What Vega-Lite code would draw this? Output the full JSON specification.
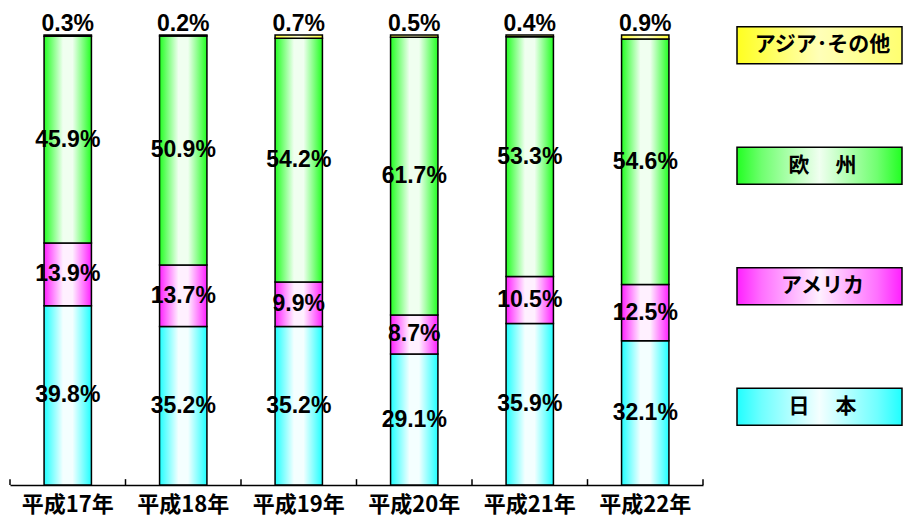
{
  "$schema": "https://vega.github.io/schema/vega-lite/v6.json",
  "padding": {"left": 9, "top": 13, "right": 5, "bottom": 5},
  "background": "white",
  "spacing": 32,
  "config": {"view": {"stroke": null}},
  "datasets": {
    "share": [
      {"year": "平成17年", "region": "日本", "order": 1, "value": 39.8},
      {"year": "平成17年", "region": "アメリカ", "order": 2, "value": 13.9},
      {"year": "平成17年", "region": "欧州", "order": 3, "value": 45.9},
      {"year": "平成17年", "region": "アジア・その他", "order": 4, "value": 0.3},
      {"year": "平成18年", "region": "日本", "order": 1, "value": 35.2},
      {"year": "平成18年", "region": "アメリカ", "order": 2, "value": 13.7},
      {"year": "平成18年", "region": "欧州", "order": 3, "value": 50.9},
      {"year": "平成18年", "region": "アジア・その他", "order": 4, "value": 0.2},
      {"year": "平成19年", "region": "日本", "order": 1, "value": 35.2},
      {"year": "平成19年", "region": "アメリカ", "order": 2, "value": 9.9},
      {"year": "平成19年", "region": "欧州", "order": 3, "value": 54.2},
      {"year": "平成19年", "region": "アジア・その他", "order": 4, "value": 0.7},
      {"year": "平成20年", "region": "日本", "order": 1, "value": 29.1},
      {"year": "平成20年", "region": "アメリカ", "order": 2, "value": 8.7},
      {"year": "平成20年", "region": "欧州", "order": 3, "value": 61.7},
      {"year": "平成20年", "region": "アジア・その他", "order": 4, "value": 0.5},
      {"year": "平成21年", "region": "日本", "order": 1, "value": 35.9},
      {"year": "平成21年", "region": "アメリカ", "order": 2, "value": 10.5},
      {"year": "平成21年", "region": "欧州", "order": 3, "value": 53.3},
      {"year": "平成21年", "region": "アジア・その他", "order": 4, "value": 0.4},
      {"year": "平成22年", "region": "日本", "order": 1, "value": 32.1},
      {"year": "平成22年", "region": "アメリカ", "order": 2, "value": 12.5},
      {"year": "平成22年", "region": "欧州", "order": 3, "value": 54.6},
      {"year": "平成22年", "region": "アジア・その他", "order": 4, "value": 0.9}
    ],
    "legend": [
      {"region": "アジア・その他", "label": "アジア･その他"},
      {"region": "欧州", "label": "欧　 州"},
      {"region": "アメリカ", "label": "アメリカ"},
      {"region": "日本", "label": "日　 本"}
    ]
  },
  "hconcat": [
    {
      "width": 693,
      "height": 450,
      "data": {"name": "share"},
      "transform": [
        {"stack": "value", "groupby": ["year"], "sort": [{"field": "order", "order": "ascending"}], "offset": "normalize", "as": ["v0", "v1"]},
        {"calculate": "(datum.v0 + datum.v1) / 2", "as": "mid"},
        {"calculate": "format(datum.value, '.1f') + '%'", "as": "label"}
      ],
      "encoding": {
        "x": {
          "field": "year", "type": "nominal", "sort": null,
          "scale": {"paddingInner": 0.59, "paddingOuter": 0.295},
          "axis": {
            "title": null, "labelAngle": 0, "labelFont": "Noto Sans CJK JP", "labelFontSize": 22,
            "labelFontWeight": "bold", "labelColor": "black", "domainColor": "black", "domainWidth": 1.5,
            "ticks": false, "labelPadding": 9
          }
        },
        "y": {
          "field": "v0", "type": "quantitative",
          "scale": {"domain": [0, 1], "nice": false},
          "axis": {"values": [1], "grid": true, "gridColor": "#d9d9d9", "gridWidth": 1.5, "labels": false, "ticks": false, "domainColor": "#333333", "domainWidth": 1.5, "title": null}
        },
        "y2": {"field": "v1"}
      },
      "layer": [
        {
          "transform": [{"filter": "datum.region === '日本'"}],
          "mark": {"type": "bar", "stroke": "black", "strokeWidth": 1.5,
            "color": {"gradient": "linear", "x1": 0, "y1": 0, "x2": 1, "y2": 0, "stops": [{"offset": 0, "color": "#20ffff"}, {"offset": 0.12, "color": "#60ffff"}, {"offset": 0.4, "color": "#f4ffff"}, {"offset": 0.6, "color": "#f4ffff"}, {"offset": 0.88, "color": "#60ffff"}, {"offset": 1, "color": "#20ffff"}]}}
        },
        {
          "transform": [{"filter": "datum.region === 'アメリカ'"}],
          "mark": {"type": "bar", "stroke": "black", "strokeWidth": 1.5,
            "color": {"gradient": "linear", "x1": 0, "y1": 0, "x2": 1, "y2": 0, "stops": [{"offset": 0, "color": "#ff20ff"}, {"offset": 0.12, "color": "#ff60ff"}, {"offset": 0.4, "color": "#fff0ff"}, {"offset": 0.6, "color": "#fff0ff"}, {"offset": 0.88, "color": "#ff60ff"}, {"offset": 1, "color": "#ff20ff"}]}}
        },
        {
          "transform": [{"filter": "datum.region === '欧州'"}],
          "mark": {"type": "bar", "stroke": "black", "strokeWidth": 1.5,
            "color": {"gradient": "linear", "x1": 0, "y1": 0, "x2": 1, "y2": 0, "stops": [{"offset": 0, "color": "#22ff22"}, {"offset": 0.12, "color": "#60ff60"}, {"offset": 0.4, "color": "#f0fff0"}, {"offset": 0.6, "color": "#f0fff0"}, {"offset": 0.88, "color": "#60ff60"}, {"offset": 1, "color": "#22ff22"}]}}
        },
        {
          "transform": [{"filter": "datum.region === 'アジア・その他'"}],
          "mark": {"type": "bar", "stroke": "black", "strokeWidth": 1.5,
            "color": {"gradient": "linear", "x1": 0, "y1": 0, "x2": 1, "y2": 0, "stops": [{"offset": 0, "color": "#ffff2e"}, {"offset": 0.5, "color": "#ffffd0"}, {"offset": 1, "color": "#ffff2e"}]}}
        },
        {
          "transform": [{"filter": "datum.region === '日本'"}],
          "mark": {"type": "rule", "color": "black", "strokeWidth": 1.5},
          "encoding": {
            "x": {"field": "year", "type": "nominal", "sort": null, "bandPosition": -0.7195},
            "y": {"datum": 0, "type": "quantitative"},
            "y2": {"datum": 0.013}
          }
        },
        {
          "transform": [{"filter": "datum.region === '日本' && datum.year === '平成22年'"}],
          "mark": {"type": "rule", "color": "black", "strokeWidth": 1.5},
          "encoding": {
            "x": {"field": "year", "type": "nominal", "sort": null, "bandPosition": 1.7195},
            "y": {"datum": 0, "type": "quantitative"},
            "y2": {"datum": 0.013}
          }
        },
        {
          "transform": [{"filter": "datum.region !== 'アジア・その他'"}],
          "mark": {"type": "text", "font": "Liberation Sans", "fontSize": 23, "fontWeight": "bold", "color": "black", "baseline": "middle"},
          "encoding": {
            "y": {"field": "mid", "type": "quantitative", "axis": null},
            "y2": null,
            "text": {"field": "label"}
          }
        },
        {
          "transform": [{"filter": "datum.region === 'アジア・その他'"}],
          "mark": {"type": "text", "font": "Liberation Sans", "fontSize": 23, "fontWeight": "bold", "color": "black", "baseline": "alphabetic", "dy": -4},
          "encoding": {
            "y": {"field": "v1", "type": "quantitative", "axis": null},
            "y2": null,
            "text": {"field": "label"}
          }
        }
      ]
    },
    {
      "width": 165,
      "height": 450,
      "data": {"name": "legend"},
      "encoding": {
        "y": {
          "field": "label", "type": "nominal", "sort": null,
          "scale": {"domain": ["アジア･その他", "欧　 州", "アメリカ", "日　 本"], "range": [-50, 432], "paddingInner": 0, "paddingOuter": 0},
          "axis": null
        },
        "x": {"datum": 0, "type": "quantitative", "scale": {"domain": [0, 1], "nice": false}, "axis": null}
      },
      "layer": [
        {
          "transform": [{"filter": "datum.region === 'アジア・その他'"}],
          "mark": {"type": "bar", "orient": "horizontal", "height": 37, "stroke": "black", "strokeWidth": 1.5,
            "color": {"gradient": "linear", "x1": 0, "y1": 0, "x2": 1, "y2": 0, "stops": [{"offset": 0, "color": "#ffff20"}, {"offset": 0.5, "color": "#ffffb8"}, {"offset": 1, "color": "#ffff70"}]}},
          "encoding": {"x2": {"datum": 1}}
        },
        {
          "transform": [{"filter": "datum.region === '欧州'"}],
          "mark": {"type": "bar", "orient": "horizontal", "height": 37, "stroke": "black", "strokeWidth": 1.5,
            "color": {"gradient": "linear", "x1": 0, "y1": 0, "x2": 1, "y2": 0, "stops": [{"offset": 0, "color": "#22ff22"}, {"offset": 0.15, "color": "#70ff70"}, {"offset": 0.5, "color": "#f0fff0"}, {"offset": 0.85, "color": "#70ff70"}, {"offset": 1, "color": "#22ff22"}]}},
          "encoding": {"x2": {"datum": 1}}
        },
        {
          "transform": [{"filter": "datum.region === 'アメリカ'"}],
          "mark": {"type": "bar", "orient": "horizontal", "height": 37, "stroke": "black", "strokeWidth": 1.5,
            "color": {"gradient": "linear", "x1": 0, "y1": 0, "x2": 1, "y2": 0, "stops": [{"offset": 0, "color": "#ff20ff"}, {"offset": 0.15, "color": "#ff70ff"}, {"offset": 0.5, "color": "#fff0ff"}, {"offset": 0.85, "color": "#ff70ff"}, {"offset": 1, "color": "#ff20ff"}]}},
          "encoding": {"x2": {"datum": 1}}
        },
        {
          "transform": [{"filter": "datum.region === '日本'"}],
          "mark": {"type": "bar", "orient": "horizontal", "height": 37, "stroke": "black", "strokeWidth": 1.5,
            "color": {"gradient": "linear", "x1": 0, "y1": 0, "x2": 1, "y2": 0, "stops": [{"offset": 0, "color": "#20ffff"}, {"offset": 0.15, "color": "#70ffff"}, {"offset": 0.5, "color": "#f4ffff"}, {"offset": 0.85, "color": "#70ffff"}, {"offset": 1, "color": "#20ffff"}]}},
          "encoding": {"x2": {"datum": 1}}
        },
        {
          "mark": {"type": "text", "font": "Noto Sans CJK JP", "fontSize": 21, "fontWeight": "bold", "color": "black", "baseline": "middle", "dx": 3},
          "encoding": {"x": {"datum": 0.5, "type": "quantitative"}, "text": {"field": "label"}}
        }
      ]
    }
  ]
}
